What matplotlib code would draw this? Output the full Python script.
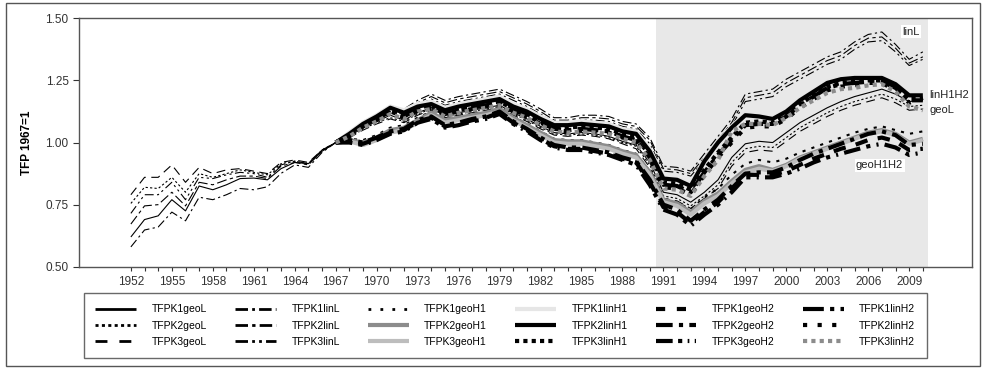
import numpy as np
import matplotlib.pyplot as plt
from matplotlib.patches import Rectangle

plt.rcParams['font.family'] = ['Liberation Sans', 'DejaVu Sans']

# Years
years_all = np.arange(1952, 2011)   # thin L series
years_h = np.arange(1967, 2011)     # H1/H2 series

# --- geoL / linL series, 1952-2010 ---
tfpk1geoL = [0.62, 0.69, 0.705, 0.77, 0.725, 0.825, 0.81, 0.83, 0.855, 0.857, 0.85, 0.895, 0.92, 0.915, 0.965,
             1.00, 1.025, 1.06, 1.085, 1.11, 1.09, 1.12, 1.14, 1.11, 1.12, 1.13, 1.14, 1.15, 1.12, 1.095, 1.065,
             1.04, 1.035, 1.04, 1.035, 1.025, 1.005, 0.99, 0.92, 0.80, 0.79, 0.76, 0.80, 0.85, 0.94, 0.995,
             1.005, 1.00, 1.04, 1.08, 1.11, 1.14, 1.165, 1.185, 1.20, 1.215, 1.195, 1.165, 1.17]
tfpk2geoL = [0.755, 0.82, 0.815, 0.86, 0.80, 0.875, 0.86, 0.875, 0.89, 0.88, 0.87, 0.915, 0.925, 0.915, 0.97,
             1.00, 1.02, 1.055, 1.08, 1.10, 1.085, 1.115, 1.135, 1.105, 1.115, 1.125, 1.135, 1.145, 1.115, 1.09, 1.06,
             1.035, 1.03, 1.035, 1.03, 1.02, 1.0, 0.985, 0.91, 0.785, 0.775, 0.745, 0.785, 0.83, 0.92, 0.975,
             0.985, 0.98, 1.02, 1.06, 1.09, 1.12, 1.145, 1.165, 1.18, 1.195, 1.175, 1.145, 1.15]
tfpk3geoL = [0.79, 0.86, 0.86, 0.91, 0.84, 0.90, 0.875, 0.89, 0.895, 0.885, 0.875, 0.92, 0.93, 0.92, 0.97,
             1.00, 1.02, 1.05, 1.075, 1.095, 1.08, 1.11, 1.13, 1.10, 1.11, 1.12, 1.13, 1.14, 1.11, 1.085, 1.055,
             1.03, 1.025, 1.03, 1.025, 1.015, 0.995, 0.975, 0.90, 0.775, 0.765, 0.735, 0.775, 0.815, 0.905, 0.96,
             0.97, 0.965, 1.005, 1.045, 1.075, 1.105, 1.13, 1.15, 1.165, 1.18, 1.16, 1.13, 1.135]
tfpk1linL = [0.58, 0.648, 0.66, 0.72, 0.685, 0.78, 0.77, 0.79, 0.815, 0.81, 0.822, 0.876, 0.91, 0.90, 0.96,
             1.00, 1.03, 1.08, 1.11, 1.14, 1.135, 1.17, 1.195, 1.17, 1.185, 1.195, 1.205, 1.215, 1.19, 1.165, 1.135,
             1.10, 1.10, 1.11, 1.11, 1.105, 1.085, 1.075, 1.02, 0.905, 0.90, 0.885, 0.955, 1.025, 1.095, 1.195,
             1.205, 1.215, 1.255, 1.285, 1.315, 1.345, 1.365, 1.405, 1.435, 1.445, 1.395, 1.335, 1.365]
tfpk2linL = [0.672, 0.745, 0.75, 0.80, 0.745, 0.84, 0.83, 0.85, 0.865, 0.865, 0.855, 0.905, 0.92, 0.91, 0.965,
             1.00, 1.025, 1.075, 1.10, 1.13, 1.125, 1.16, 1.185, 1.16, 1.175, 1.185, 1.195, 1.205, 1.18, 1.155, 1.125,
             1.09, 1.09, 1.10, 1.10, 1.095, 1.075, 1.065, 1.01, 0.895, 0.89, 0.875, 0.94, 1.01, 1.08, 1.18,
             1.19, 1.20, 1.24, 1.27, 1.30, 1.33, 1.35, 1.39, 1.42, 1.425, 1.38, 1.32, 1.345]
tfpk3linL = [0.715, 0.79, 0.79, 0.84, 0.77, 0.86, 0.855, 0.87, 0.88, 0.875, 0.86, 0.91, 0.925, 0.915, 0.97,
             1.00, 1.02, 1.07, 1.095, 1.12, 1.115, 1.15, 1.175, 1.15, 1.165, 1.175, 1.185, 1.195, 1.17, 1.145, 1.115,
             1.08, 1.08, 1.09, 1.09, 1.085, 1.065, 1.055, 0.995, 0.885, 0.88, 0.865, 0.93, 0.995, 1.065, 1.165,
             1.175, 1.185, 1.225, 1.255, 1.285, 1.315, 1.335, 1.375, 1.405, 1.41, 1.365, 1.31, 1.335]

# --- H1 / H2 series, 1967-2010 ---
tfpk1geoH1 = [1.00, 1.015, 1.01, 1.03, 1.06, 1.07, 1.10, 1.125, 1.095, 1.105, 1.115, 1.125, 1.14, 1.105, 1.075,
              1.045, 1.015, 1.01, 1.01, 1.0, 0.99, 0.97, 0.955, 0.885, 0.775, 0.76, 0.73, 0.78, 0.815, 0.87,
              0.915, 0.93, 0.92, 0.935, 0.96, 0.98, 1.0, 1.02, 1.04, 1.055, 1.065, 1.05, 1.035, 1.045]
tfpk2geoH1 = [1.00, 1.01, 1.0, 1.02, 1.05, 1.06, 1.09, 1.12, 1.09, 1.10, 1.11, 1.12, 1.135, 1.10, 1.07,
              1.04, 1.01, 1.005, 1.005, 0.995, 0.985, 0.965, 0.95, 0.88, 0.77, 0.755, 0.72, 0.765, 0.795, 0.845,
              0.89, 0.905, 0.89, 0.91, 0.94, 0.96, 0.98, 1.0, 1.02, 1.04, 1.05, 1.035, 1.0, 1.015]
tfpk3geoH1 = [1.00, 1.005, 0.99, 1.01, 1.04, 1.05, 1.08, 1.11, 1.08, 1.09, 1.10, 1.11, 1.125, 1.09, 1.06,
              1.03, 1.0, 0.995, 0.995, 0.985, 0.975, 0.955, 0.94, 0.87, 0.76, 0.745, 0.71, 0.755, 0.785, 0.835,
              0.88, 0.895, 0.885, 0.905, 0.935, 0.955, 0.975, 0.995, 1.015, 1.035, 1.045, 1.03, 0.995, 1.01]
tfpk1linH1 = [1.00, 1.04, 1.08, 1.11, 1.145, 1.13, 1.155, 1.165, 1.14, 1.155, 1.165, 1.175, 1.185, 1.155, 1.135,
              1.105, 1.08, 1.08, 1.085, 1.08, 1.075, 1.055, 1.045, 0.975, 0.86, 0.855, 0.83, 0.93, 1.005, 1.065,
              1.115, 1.11, 1.10, 1.13, 1.175, 1.21, 1.245, 1.26, 1.265, 1.265, 1.265, 1.24, 1.195, 1.195]
tfpk2linH1 = [1.00, 1.035, 1.075, 1.105, 1.14, 1.12, 1.145, 1.155, 1.13, 1.145, 1.155, 1.165, 1.175, 1.145, 1.125,
              1.095, 1.07, 1.07, 1.075, 1.07, 1.065, 1.045, 1.035, 0.965, 0.855, 0.85, 0.825, 0.925, 1.0, 1.06,
              1.11, 1.105, 1.095, 1.125, 1.17, 1.205, 1.24, 1.255, 1.26, 1.26, 1.26, 1.235, 1.19, 1.19]
tfpk3linH1 = [1.00, 1.03, 1.07, 1.10, 1.13, 1.11, 1.14, 1.15, 1.12, 1.135, 1.145, 1.155, 1.165, 1.135, 1.115,
              1.085, 1.06, 1.06, 1.065, 1.06, 1.055, 1.035, 1.02, 0.95, 0.84, 0.835, 0.81, 0.89, 0.96, 1.02,
              1.08, 1.085, 1.08, 1.11, 1.155, 1.19, 1.225, 1.24, 1.245, 1.25, 1.25, 1.225, 1.175, 1.175]
tfpk1geoH2 = [1.00, 1.005, 0.995, 1.015, 1.04, 1.05, 1.085, 1.10, 1.065, 1.075, 1.09, 1.10, 1.12, 1.08, 1.05,
              1.015, 0.985, 0.975, 0.975, 0.965, 0.955, 0.935, 0.92, 0.84, 0.74, 0.72, 0.675, 0.72, 0.76, 0.815,
              0.87, 0.87, 0.87, 0.885, 0.91, 0.935, 0.955, 0.975, 0.99, 1.01, 1.02, 1.005, 0.97, 0.975]
tfpk2geoH2 = [1.00, 1.01, 1.0, 1.02, 1.045, 1.055, 1.09, 1.105, 1.07, 1.08, 1.095, 1.105, 1.125, 1.085, 1.055,
              1.02, 0.99, 0.98, 0.98, 0.97, 0.96, 0.94, 0.925, 0.85, 0.75, 0.73, 0.685, 0.73, 0.77, 0.825,
              0.875, 0.88, 0.88, 0.90, 0.93, 0.955, 0.975, 0.995, 1.015, 1.035, 1.045, 1.03, 0.99, 0.995]
tfpk3geoH2 = [1.00, 1.0, 0.99, 1.01, 1.035, 1.045, 1.08, 1.095, 1.06, 1.07, 1.085, 1.095, 1.115, 1.075, 1.045,
              1.01, 0.98, 0.97, 0.97, 0.96, 0.95, 0.93, 0.91, 0.83, 0.73, 0.71, 0.665, 0.71, 0.75, 0.80,
              0.86, 0.86, 0.86, 0.875, 0.895, 0.92, 0.94, 0.955, 0.97, 0.985, 0.995, 0.98, 0.95, 0.96]
tfpk1linH2 = [1.00, 1.03, 1.07, 1.095, 1.125, 1.105, 1.135, 1.145, 1.115, 1.13, 1.14, 1.15, 1.16, 1.13, 1.11,
              1.08, 1.055, 1.05, 1.055, 1.05, 1.045, 1.025, 1.01, 0.94, 0.83, 0.825, 0.80, 0.88, 0.95, 1.01,
              1.07, 1.075, 1.075, 1.105, 1.15, 1.185, 1.22, 1.235, 1.24, 1.245, 1.245, 1.22, 1.17, 1.17]
tfpk2linH2 = [1.00, 1.025, 1.065, 1.09, 1.12, 1.10, 1.13, 1.14, 1.11, 1.125, 1.135, 1.145, 1.155, 1.125, 1.105,
              1.075, 1.05, 1.045, 1.05, 1.045, 1.04, 1.02, 1.005, 0.935, 0.82, 0.815, 0.79, 0.87, 0.94, 1.0,
              1.06, 1.065, 1.065, 1.095, 1.14, 1.175, 1.21, 1.225, 1.23, 1.24, 1.24, 1.21, 1.16, 1.18]
tfpk3linH2 = [1.00, 1.025, 1.06, 1.085, 1.115, 1.095, 1.125, 1.135, 1.105, 1.12, 1.13, 1.14, 1.15, 1.12, 1.10,
              1.07, 1.045, 1.04, 1.045, 1.04, 1.035, 1.015, 1.0, 0.93, 0.815, 0.81, 0.785, 0.865, 0.93, 1.045,
              1.075, 1.075, 1.07, 1.10, 1.14, 1.17, 1.20, 1.215, 1.22, 1.23, 1.235, 1.205, 1.145, 1.13]

fig = plt.figure(figsize=(9.85, 3.70), dpi=100)
ax = fig.add_axes([0.0802, 0.279, 0.9066, 0.6715])

# shaded period
ax.axvspan(1990.45, 2010.4, color='#e8e8e8', lw=0, zorder=0)

thin = 0.8
thick = 3.0
# (label, x, y, color, lw, dashes in plot, legend lw, legend dashes)
series = [
    ("TFPK1geoL", years_all, tfpk1geoL, 'black', thin, None, 2, None),
    ("TFPK2geoL", years_all, tfpk2geoL, 'black', thin, (2, 2), 2, (1.1, 1.2)),
    ("TFPK3geoL", years_all, tfpk3geoL, 'black', thin, (8, 5), 2, (4.3, 4.3)),
    ("TFPK1linL", years_all, tfpk1linL, 'black', thin, (8, 3, 2, 3), 2, (4.5, 1.5, 1, 1.5)),
    ("TFPK2linL", years_all, tfpk2linL, 'black', thin, (9, 3, 3, 3), 2, (4.5, 1.5, 1.2, 1.5)),
    ("TFPK3linL", years_all, tfpk3linL, 'black', thin, (8, 3, 2, 3, 2, 3), 2, (4.5, 1.5, 1, 1.5, 1, 1.5)),
    ("TFPK1geoH1", years_h, tfpk1geoH1, 'black', 1.5, (1.5, 3), 2, (1, 3.3)),
    ("TFPK2geoH1", years_h, tfpk2geoH1, '#8c8c8c', thick, None, thick, None),
    ("TFPK3geoH1", years_h, tfpk3geoH1, '#bdbdbd', thick, None, thick, None),
    ("TFPK1linH1", years_h, tfpk1linH1, '#e6e6e6', thick, None, thick, None),
    ("TFPK2linH1", years_h, tfpk2linH1, 'black', thick, None, thick, None),
    ("TFPK3linH1", years_h, tfpk3linH1, 'black', thick, (1, 1), thick, (1, 1)),
    ("TFPK1geoH2", years_h, tfpk1geoH2, 'black', thick, (3, 2.5), thick, (2.2, 2.8)),
    ("TFPK2geoH2", years_h, tfpk2geoH2, 'black', thick, (4, 1.5, 1, 1.5), thick, (4, 1.5, 1, 1.5)),
    ("TFPK3geoH2", years_h, tfpk3geoH2, 'black', thick, (4, 1.5, 1, 1.5, 0.5, 1.5), thick, (4, 1.3, 1, 1.3, 0.4, 1.3)),
    ("TFPK1linH2", years_h, tfpk1linH2, 'black', thick, (5, 1.5, 1, 1.5), thick, (5, 1.5, 1, 1.5)),
    ("TFPK2linH2", years_h, tfpk2linH2, 'black', thick, (1, 2.5), thick, (1, 2.5)),
    ("TFPK3linH2", years_h, tfpk3linH2, '#8c8c8c', thick, (1, 1), thick, (1, 1)),
]

for name, xs, ys, col, lw, dsh, _, _ in series:
    line, = ax.plot(xs, ys, color=col, lw=lw, label=name, solid_capstyle='butt',
                    dash_capstyle='butt')
    if dsh is not None:
        line.set_dashes(dsh)

ax.set_xlim(1948.2, 2013.6)
ax.set_ylim(0.5, 1.5)
ax.set_yticks([0.5, 0.75, 1.0, 1.25, 1.5])
ax.set_yticklabels(["0.50", "0.75", "1.00", "1.25", "1.50"])
ax.set_xticks(np.arange(1952, 2010, 3))
ax.set_xticks(np.arange(1952, 2011), minor=True)
ax.tick_params(axis='both', which='both', direction='out', labelsize=8.5, colors='#333333')
ax.tick_params(axis='x', which='both', length=3, width=0.8)
ax.tick_params(axis='y', length=4, width=0.8)
for s in ax.spines.values():
    s.set_color('#555555')
    s.set_linewidth(1.0)
ax.set_ylabel("TFP 1967=1", fontsize=8.5, fontweight='bold', labelpad=9)

box = dict(facecolor='white', edgecolor='none', pad=1)
ax.text(2008.5, 1.446, "linL", fontsize=8, color='#222222', va='center', bbox=box)
ax.text(2010.5, 1.19, "linH1H2", fontsize=8, color='#222222', va='center')
ax.text(2010.5, 1.13, "geoL", fontsize=8, color='#222222', va='center')
ax.text(2005.1, 0.908, "geoH1H2", fontsize=8, color='#222222', va='center', bbox=box)

leg = fig.legend(loc='upper left', bbox_to_anchor=(0.0853, 0.2081),
                 ncol=6, fontsize=7.5, frameon=True, fancybox=False,
                 edgecolor='#444444', handlelength=3.9, handletextpad=1.5,
                 columnspacing=2.7, borderpad=1.1, borderaxespad=0, labelspacing=0.6)
leg.get_frame().set_linewidth(1.0)
for hl, (_, _, _, _, _, _, llw, ldsh) in zip(leg.get_lines(), series):
    hl.set_linewidth(llw)
    if ldsh is not None:
        hl.set_dashes(ldsh)

# outer chart border
fig.patches.append(Rectangle((0.006, 0.01), 0.989, 0.982, transform=fig.transFigure,
                             fill=False, edgecolor='#555555', lw=1.0))

fig.savefig("out.png", dpi=100)
